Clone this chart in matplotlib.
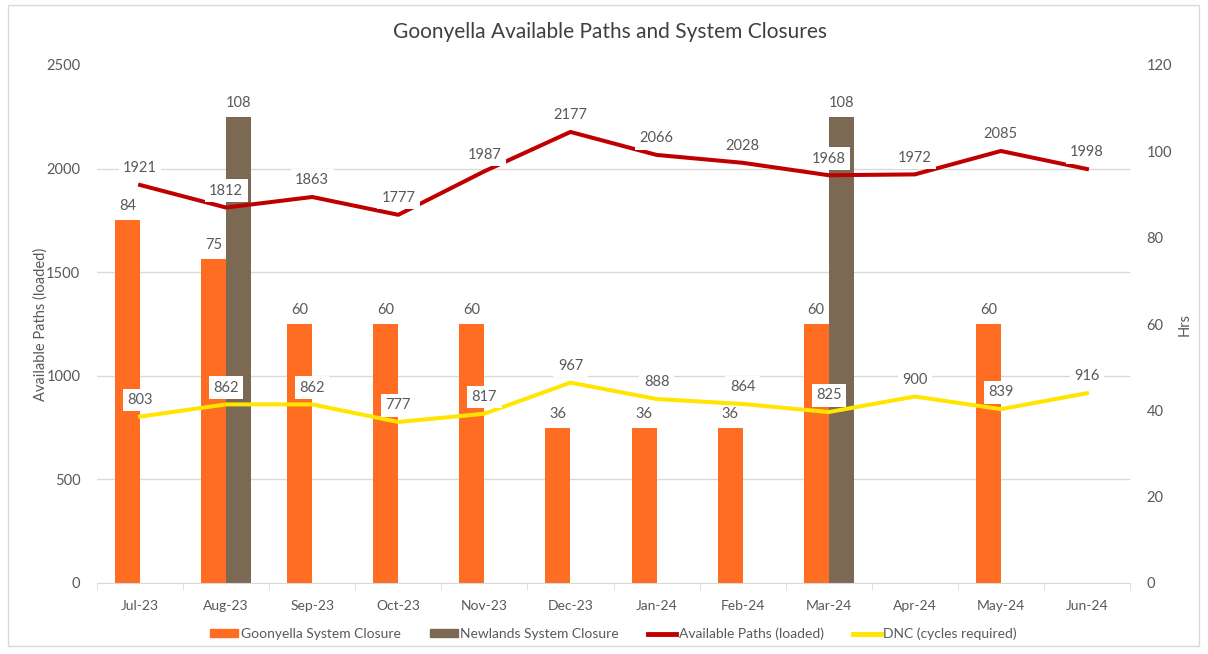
import numpy as np
import matplotlib.pyplot as plt
from matplotlib.patches import Rectangle, Patch
from matplotlib.lines import Line2D

months = ['Jul-23', 'Aug-23', 'Sep-23', 'Oct-23', 'Nov-23', 'Dec-23',
          'Jan-24', 'Feb-24', 'Mar-24', 'Apr-24', 'May-24', 'Jun-24']
goonyella = [84, 75, 60, 60, 60, 36, 36, 36, 60, np.nan, 60, np.nan]
newlands = [np.nan, 108, np.nan, np.nan, np.nan, np.nan, np.nan, np.nan, 108, np.nan, np.nan, np.nan]
paths = [1921, 1812, 1863, 1777, 1987, 2177, 2066, 2028, 1968, 1972, 2085, 1998]
dnc = [803, 862, 862, 777, 817, 967, 888, 864, 825, 900, 839, 916]

c_orange = '#FF6D22'
c_brown = '#7B6953'
c_red = '#C00000'
c_yellow = '#FFE500'
c_text = '#595959'
c_grid = '#D9D9D9'

plt.rcParams['font.family'] = ['Lato', 'DejaVu Sans']

fig = plt.figure(figsize=(12.08, 6.54), dpi=100)
fig.patches.append(Rectangle((8 / 1208, 1 - 646 / 654), 1191 / 1208, 641 / 654,
                             transform=fig.transFigure, fill=False,
                             edgecolor=c_grid, linewidth=1))

# bars on host axis (Hrs, right side), lines on twin (left side) so lines sit on top
ax = fig.add_axes([97 / 1208, 1 - 583 / 654, 1033 / 1208, 518 / 654])
ax2 = ax.twinx()

x = np.arange(len(months))
w = 0.29
ax.bar(x - w / 2, goonyella, w, color=c_orange, zorder=2)
ax.bar(x + w / 2, newlands, w, color=c_brown, zorder=2)
for xi, v in zip(x - w / 2, goonyella):
    if not np.isnan(v):
        ax.annotate(f'{v:g}', (xi, v), xytext=(0, 5), textcoords='offset points',
                    ha='center', va='bottom', fontsize=10.5, color=c_text)
for xi, v in zip(x + w / 2, newlands):
    if not np.isnan(v):
        ax.annotate(f'{v:g}', (xi, v), xytext=(0, 5), textcoords='offset points',
                    ha='center', va='bottom', fontsize=10.5, color=c_text)

ax.set_ylim(0, 120)
ax.set_xlim(-0.5, len(months) - 0.5)
ax.set_yticks(np.arange(0, 121, 20))
ax.yaxis.tick_right()
ax.yaxis.set_label_position('right')
ax.set_ylabel('Hrs', color=c_text, fontsize=10.5, rotation=90, labelpad=4)
# gridlines follow the left axis (every 500 = 24 Hrs)
ax.set_yticks(np.arange(0, 121, 24), minor=True)
ax.grid(axis='y', which='minor', color=c_grid, linewidth=1, zorder=0)
ax.tick_params(axis='y', which='both', length=0, labelsize=10.5, labelcolor=c_text, pad=12)

ax.set_xticks(x)
ax.set_xticklabels(months)
ax.set_xticks(np.arange(-0.5, len(months), 1), minor=True)
ax.tick_params(axis='x', which='major', length=0, labelsize=10, labelcolor=c_text, pad=12)
ax.tick_params(axis='x', which='minor', length=5, color=c_grid)
for s in ['top', 'left', 'right']:
    ax.spines[s].set_visible(False)
ax.spines['bottom'].set_color(c_grid)

ax2.plot(x, paths, color=c_red, linewidth=2.9, zorder=3)
ax2.plot(x, dnc, color=c_yellow, linewidth=2.9, zorder=3)
box = dict(boxstyle='square,pad=0.3', facecolor='white', edgecolor='none')
for xi, v in zip(x, paths):
    ax2.annotate(str(v), (xi, v), xytext=(0, 7), textcoords='offset points',
                 ha='center', va='bottom', fontsize=10.5, color=c_text, bbox=box)
for xi, v in zip(x, dnc):
    ax2.annotate(str(v), (xi, v), xytext=(0, 7), textcoords='offset points',
                 ha='center', va='bottom', fontsize=10.5, color=c_text, bbox=box)

ax2.set_ylim(0, 2500)
ax2.set_yticks(np.arange(0, 2501, 500))
ax2.yaxis.tick_left()
ax2.yaxis.set_label_position('left')
ax2.set_ylabel('Available Paths (loaded)', color=c_text, fontsize=10.5, labelpad=-1)
ax2.tick_params(axis='y', length=0, labelsize=10.5, labelcolor=c_text, pad=12)
for s in ax2.spines.values():
    s.set_visible(False)

fig.suptitle('Goonyella Available Paths and System Closures', x=0.505, y=1 - 22 / 654,
             fontsize=15, color='#404040')

handles = [Patch(color=c_orange), Patch(color=c_brown),
           Line2D([], [], color=c_red, linewidth=3.5),
           Line2D([], [], color=c_yellow, linewidth=3.5)]
labels = ['Goonyella System Closure', 'Newlands System Closure',
          'Available Paths (loaded)', 'DNC (cycles required)']
fig.legend(handles, labels, loc='center', bbox_to_anchor=(0.508, 1 - 634 / 654),
           ncol=4, frameon=False, fontsize=10, labelcolor=c_text,
           handlelength=2.0, handleheight=0.5, handletextpad=0.2, columnspacing=2.1)

fig.savefig('out.png', dpi=100)
